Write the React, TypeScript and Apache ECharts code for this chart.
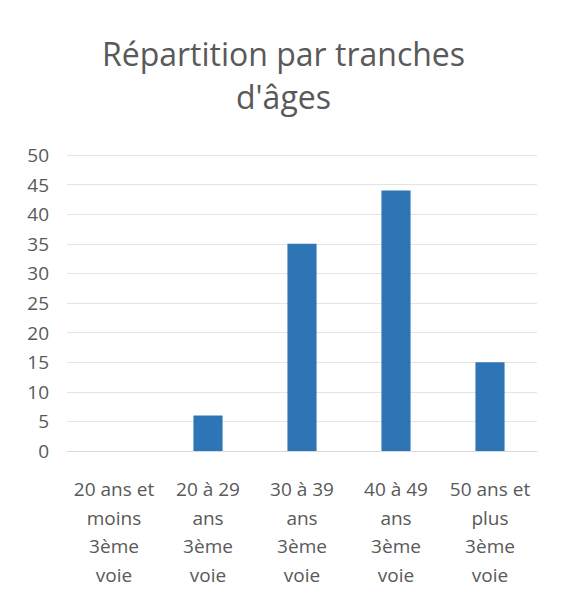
import React, { useEffect, useRef } from "react";
import * as echarts from "echarts";

const categories = [
  "20 ans et\nmoins\n3ème\nvoie",
  "20 à 29\nans\n3ème\nvoie",
  "30 à 39\nans\n3ème\nvoie",
  "40 à 49\nans\n3ème\nvoie",
  "50 ans et\nplus\n3ème\nvoie",
];
const values = [0, 6, 35, 44, 15];
const yMin = 0;
const yMax = 50;
const yStep = 5;
const titleText = "Répartition par tranches\nd'âges";

export default function App() {
  const ref = useRef<HTMLDivElement>(null);
  useEffect(() => {
    if (!ref.current) return;
    const chart = echarts.init(ref.current, null, { renderer: "svg" });
    const font = "'Open Sans', sans-serif";
    chart.setOption({
      animation: false,
      backgroundColor: "#ffffff",
      title: {
        text: titleText,
        left: "center",
        top: 27,
        textStyle: {
          fontFamily: font,
          fontSize: 32,
          fontWeight: "normal",
          color: "#595959",
          lineHeight: 43,
        },
      },
      grid: { left: 67, right: 30, top: 155, bottom: 148, containLabel: false },
      xAxis: {
        type: "category",
        data: categories,
        axisLine: { show: true, lineStyle: { color: "#d9d9d9", width: 1 } },
        axisTick: { show: false },
        axisLabel: {
          interval: 0,
          margin: 24,
          fontFamily: font,
          fontSize: 19,
          lineHeight: 28.5,
          color: "#595959",
        },
      },
      yAxis: {
        type: "value",
        min: yMin,
        max: yMax,
        interval: yStep,
        axisLine: { show: false },
        axisTick: { show: false },
        splitLine: { lineStyle: { color: "#e4e4e4", width: 1 } },
        axisLabel: {
          margin: 18,
          fontFamily: font,
          fontSize: 19,
          color: "#595959",
        },
      },
      series: [
        {
          type: "bar",
          data: values,
          barWidth: "31%",
          itemStyle: { color: "#2e75b6" },
        },
      ],
    });
    return () => chart.dispose();
  }, []);
  return (
    <div
      ref={ref}
      style={{ position: "fixed", left: 0, top: 0, width: 567, height: 599 }}
    />
  );
}
